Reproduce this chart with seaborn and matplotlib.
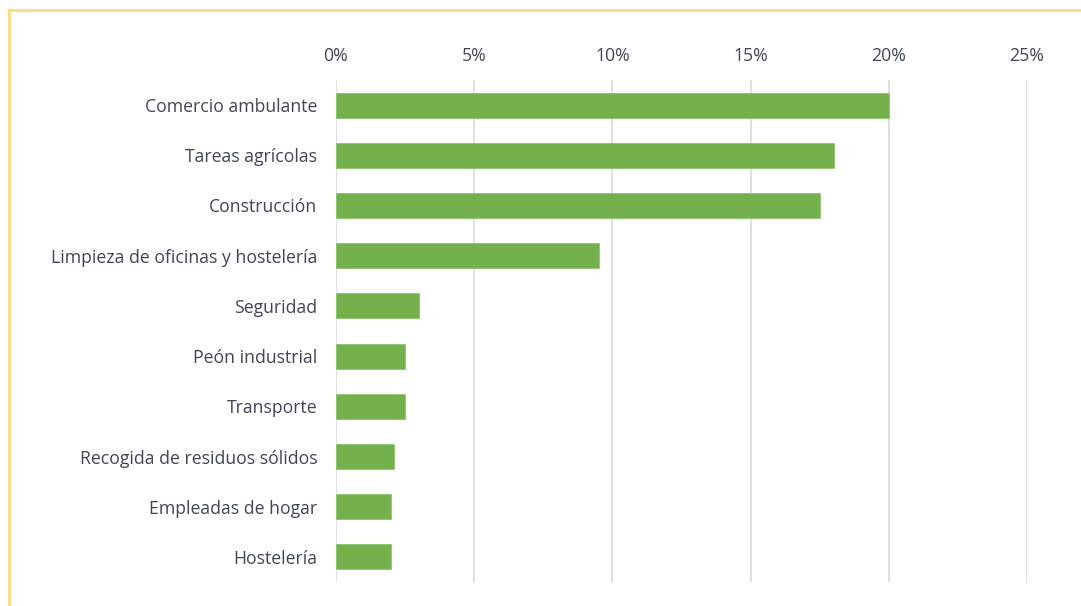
import matplotlib
matplotlib.use("Agg")
import matplotlib.pyplot as plt
import seaborn as sns
import pandas as pd
from matplotlib.lines import Line2D
from matplotlib.ticker import FuncFormatter, MultipleLocator

categories = [
    "Comercio ambulante",
    "Tareas agrícolas",
    "Construcción",
    "Limpieza de oficinas y hostelería",
    "Seguridad",
    "Peón industrial",
    "Transporte",
    "Recogida de residuos sólidos",
    "Empleadas de hogar",
    "Hostelería",
]
values = [20.0, 18.0, 17.5, 9.5, 3.0, 2.5, 2.5, 2.1, 2.0, 2.0]

df = pd.DataFrame({"cat": categories, "val": values})

sns.set_theme(style="white")
plt.rcParams["font.family"] = ["Open Sans", "DejaVu Sans"]

fig = plt.figure(figsize=(10.81, 6.06), dpi=100)
ax = fig.add_axes([336/1081, 1-582/606, (1027-336)/1081, (582-80)/606])

sns.barplot(data=df, y="cat", x="val", orient="h", color="#74B04B",
            saturation=1, width=0.5, edgecolor="#8CC46A", linewidth=0.6, ax=ax)

ax.set_xlim(0, 25)
ax.set_ylim(9.5, -0.5)
ax.xaxis.set_major_locator(MultipleLocator(5))
ax.xaxis.set_major_formatter(FuncFormatter(lambda v, p: f"{v:.0f}%"))
ax.xaxis.tick_top()
ax.set_xlabel("")
ax.set_ylabel("")
ax.grid(axis="x", color="#D9DEE6", linewidth=1.3)
ax.set_axisbelow(True)
for s in ax.spines.values():
    s.set_visible(False)
ax.tick_params(axis="both", length=0, labelsize=12.7, colors="#3F4757")
ax.tick_params(axis="x", pad=11)
ax.tick_params(axis="y", pad=13.5)

# border
c = "#FFD97F"
fig.add_artist(Line2D([8/1081, 1], [1-10/606, 1-10/606], color=c, linewidth=2, transform=fig.transFigure))
fig.add_artist(Line2D([9/1081, 9/1081], [0, 1-10/606], color=c, linewidth=2, transform=fig.transFigure))

fig.savefig("out.png", dpi=100)
